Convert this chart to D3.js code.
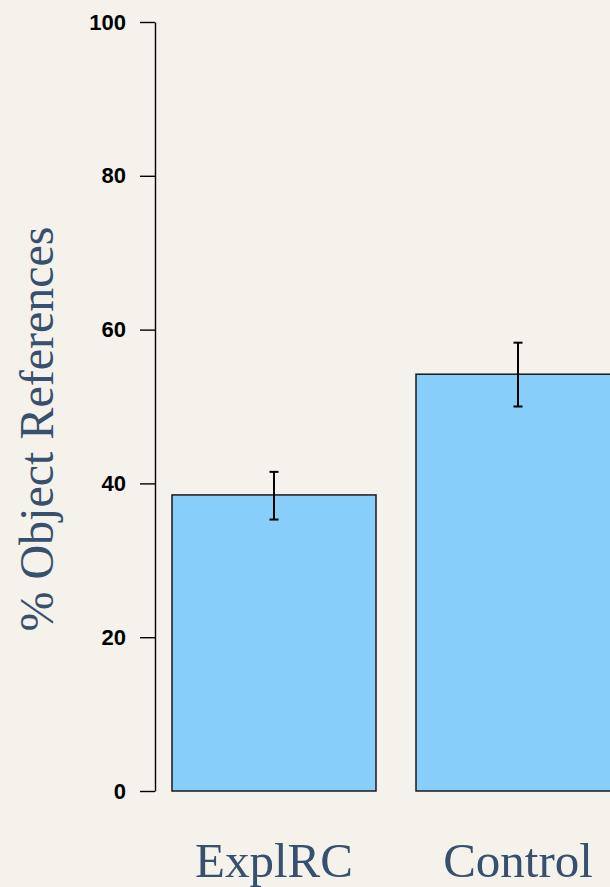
<!DOCTYPE html>
<html>
<head>
<meta charset="utf-8">
<script src="https://cdn.jsdelivr.net/npm/d3@7"></script>
<style>
  html, body { margin: 0; padding: 0; background: #f5f2ec; }
  svg { display: block; }
</style>
</head>
<body>
<svg id="chart" width="610" height="887"></svg>
<script>
// data
var groups = ["ExplRC", "Control"];
var means  = [38.5, 54.2];
var lower  = [35.3, 50.0];
var upper  = [41.5, 58.3];
var yTicks = [0, 20, 40, 60, 80, 100];

var svg = d3.select("svg#chart");

var y = d3.scaleLinear().domain([0, 100]).range([791, 22]);
// two bars 204px wide with a 40px gap, the second runs past the right edge
var x = d3.scaleBand().domain(groups).range([172, 620]).paddingInner(40 / 244).paddingOuter(0);

var rows = groups.map(function (g, i) {
  return {name: g, mean: means[i], lo: lower[i], hi: upper[i]};
});

// bars
svg.append("g").selectAll("rect")
  .data(rows)
  .enter()
  .append("rect")
  .attr("x", d => x(d.name))
  .attr("y", d => y(d.mean))
  .attr("width", x.bandwidth())
  .attr("height", d => y(0) - y(d.mean))
  .style("fill", "#87cefa")
  .style("stroke", "#1a1a1a")
  .style("stroke-width", 1.5);

// error bars
var eb = svg.append("g").selectAll("g")
  .data(rows)
  .enter()
  .append("g")
  .attr("transform", d => "translate(" + (x(d.name) + x.bandwidth() / 2) + ",0)")
  .style("stroke", "#000")
  .style("stroke-width", 2);

eb.append("line").attr("y1", d => y(d.lo)).attr("y2", d => y(d.hi));
eb.append("line").attr("x1", -4.5).attr("x2", 4.5).attr("y1", d => y(d.hi)).attr("y2", d => y(d.hi));
eb.append("line").attr("x1", -4.5).attr("x2", 4.5).attr("y1", d => y(d.lo)).attr("y2", d => y(d.lo));

// y axis
var axis = svg.append("g")
  .attr("transform", "translate(155,0)")
  .call(d3.axisLeft(y).tickValues(yTicks).tickSize(15).tickSizeOuter(0).tickPadding(14));

axis.selectAll("path, line").style("stroke", "#000").style("stroke-width", 1.4);
axis.selectAll("text")
  .style("font-family", "'Liberation Sans', Arial, sans-serif")
  .style("font-weight", "bold")
  .style("font-size", "22px")
  .style("fill", "#000");

// category labels
svg.append("g").selectAll("text")
  .data(groups)
  .enter()
  .append("text")
  .attr("x", d => x(d) + x.bandwidth() / 2)
  .attr("y", 877)
  .attr("text-anchor", "middle")
  .style("font-family", "'Liberation Serif', 'DejaVu Serif', serif")
  .style("font-size", "49px")
  .style("fill", "#36506e")
  .text(d => d);

// y title
svg.append("text")
  .attr("transform", "translate(53,429) rotate(-90)")
  .attr("text-anchor", "middle")
  .style("font-family", "'Liberation Serif', 'DejaVu Serif', serif")
  .style("font-size", "48px")
  .style("fill", "#36506e")
  .text("% Object References");
</script>
</body>
</html>
